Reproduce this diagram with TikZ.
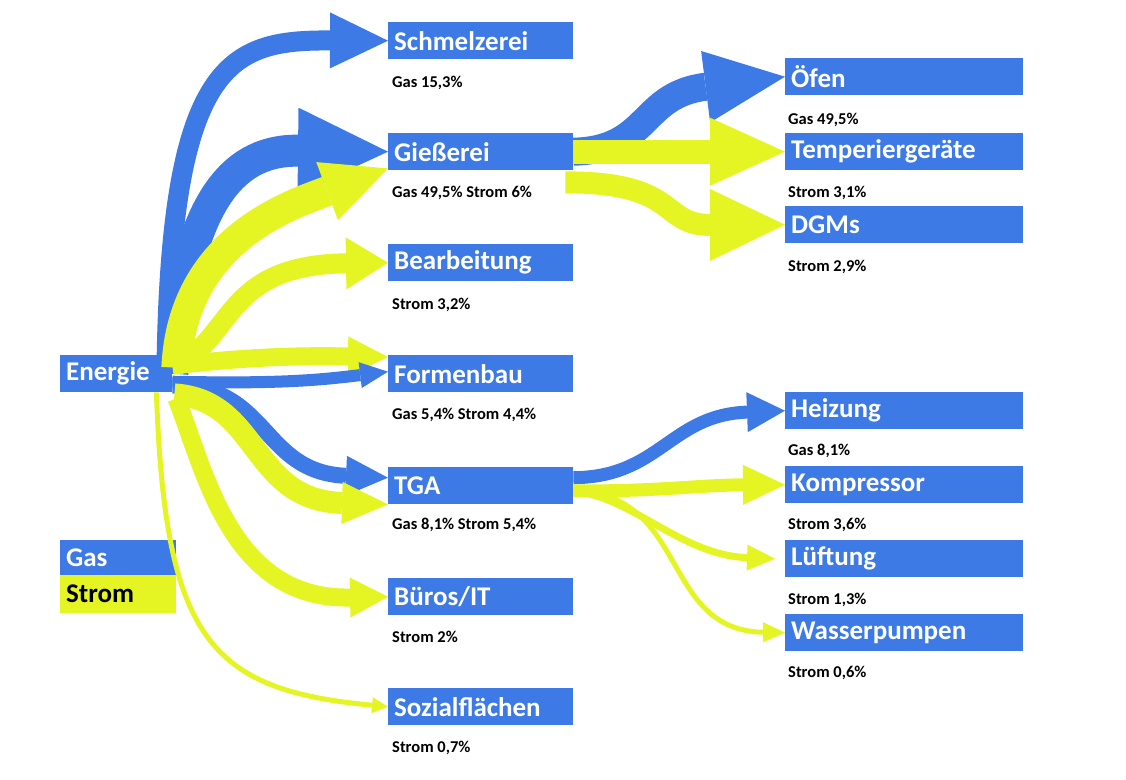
\documentclass[tikz,border=0pt]{standalone}
\usepackage{fontspec}
\setmainfont{Carlito}
\usepackage{tikz}
\usetikzlibrary{arrows.meta, calc}
\definecolor{gasblue}{HTML}{3D7AE6}
\definecolor{stromyellow}{HTML}{E4F523}

\begin{document}
\begin{tikzpicture}[x=1pt, y=-1pt,
  box/.style={fill=gasblue, text=white, font=\bfseries\fontsize{27}{30}\selectfont,
    anchor=north west, minimum height=37pt, inner xsep=6pt, inner ysep=0pt,
    align=left, text width=173pt},
  widebox/.style={box, text width=226pt},
  share/.style={anchor=west, inner sep=0pt, font=\bfseries\fontsize{16.5}{18}\selectfont},
  flow/.style n args={4}{draw=#1, line width=#2,
    -{Triangle[length=#3, width=#4, line width=0pt]}}]
\useasboundingbox (0,0) rectangle (1126,779);

\node[box, text width=100pt] (energie) at (60,355) {Energie};
\node[box, text width=104pt, minimum height=35pt] (gas) at (60,540) {Gas};
\node[box, text width=104pt, minimum height=38pt, fill=stromyellow, text=black] (strom) at (60,575) {Strom};

\node[box] (schmelz) at (388,22) {Schmelzerei};
\node[box] (giess) at (388,133) {Gießerei};
\node[box] (bearb) at (388,244) {Bearbeitung};
\node[box] (formen) at (388,355) {Formenbau};
\node[box] (tga) at (388,467) {TGA};
\node[box] (bueros) at (388,578) {Büros/IT};
\node[box] (sozial) at (388,688) {Sozialflächen};

\node[widebox] (oefen) at (785,58) {Öfen};
\node[widebox] (temper) at (785,133) {Temperiergeräte};
\node[widebox] (dgms) at (785,206) {DGMs};
\node[widebox] (heiz) at (785,392) {Heizung};
\node[widebox] (kompr) at (785,466) {Kompressor};
\node[widebox] (lueft) at (785,540) {Lüftung};
\node[widebox] (wasser) at (785,614) {Wasserpumpen};

\node[share] (schmelzval) at (392,83) {Gas 15,3\%};
\node[share] (giessval) at (392,193) {Gas 49,5\% Strom 6\%};
\node[share] (bearbval) at (392,305) {Strom 3,2\%};
\node[share] (formenval) at (392,415) {Gas 5,4\% Strom 4,4\%};
\node[share] (tgaval) at (392,525) {Gas 8,1\% Strom 5,4\%};
\node[share] (buerosval) at (392,637) {Strom 2\%};
\node[share] (sozialval) at (392,748) {Strom 0,7\%};
\node[share] (oefenval) at (788,120) {Gas 49,5\%};
\node[share] (temperval) at (788,193) {Strom 3,1\%};
\node[share] (dgmsval) at (788,267) {Strom 2,9\%};
\node[share] (heizval) at (788,451) {Gas 8,1\%};
\node[share] (komprval) at (788,525) {Strom 3,6\%};
\node[share] (lueftval) at (788,600) {Strom 1,3\%};
\node[share] (wasserval) at (788,673) {Strom 0,6\%};

\draw[flow={gasblue}{20pt}{58pt}{56pt}] ($(energie.east)+(-6,0)$)
  .. controls (170,60) and (230,40) .. (schmelz.west);
\draw[flow={gasblue}{32pt}{90pt}{86pt}] (energie.east)
  .. controls (185,190) and (240,150) .. (giess.west);
\draw[flow={stromyellow}{30pt}{65pt}{62pt}] ($(energie.east)+(4,-6)$)
  .. controls (182,240) and (290,205) .. ($(giess.south west)+(0,-2)$);
\draw[flow={stromyellow}{20pt}{42pt}{52pt}] ($(energie.east)+(4,-8)$)
  .. controls (235,335) and (225,265) .. (bearb.west);
\draw[flow={stromyellow}{18pt}{40pt}{40pt}] ($(energie.east)+(0,-8)$)
  .. controls (260,355) and (320,356) .. ($(formen.north west)+(0,2)$);
\draw[flow={gasblue}{12pt}{28pt}{26pt}] ($(energie.east)+(0,8)$)
  .. controls (280,384) and (320,380) .. ($(formen.west)+(0,-2)$);
\draw[flow={gasblue}{16pt}{42pt}{40pt}] ($(energie.east)+(0,12)$)
  .. controls (270,385) and (260,472) .. ($(tga.west)+(0,-8)$);
\draw[flow={stromyellow}{22pt}{46pt}{42pt}] ($(energie.south east)+(2,2)$)
  .. controls (260,400) and (250,500) .. (tga.south west);
\draw[flow={stromyellow}{18pt}{38pt}{40pt}] ($(energie.south east)+(4,6)$)
  .. controls (205,470) and (230,600) .. (bueros.west);
\draw[flow={stromyellow}{5pt}{16pt}{16pt}] ($(energie.south east)+(-16,0)$)
  .. controls (165,640) and (210,690) .. (sozial.west);

\draw[flow={gasblue}{28pt}{80pt}{72pt}] (giess.east)
  .. controls (650,150) and (640,95) .. (oefen.west);
\draw[flow={stromyellow}{24pt}{75pt}{68pt}] (giess.east) -- (temper.west);
\draw[flow={stromyellow}{22pt}{75pt}{72pt}] ($(giess.south east)+(-8,12)$)
  .. controls (680,182) and (660,225) .. (dgms.west);

\draw[flow={gasblue}{13pt}{38pt}{40pt}] ($(tga.east)+(0,-8)$)
  .. controls (660,477) and (670,415) .. (heiz.west);
\draw[flow={stromyellow}{13pt}{42pt}{40pt}] ($(tga.east)+(0,5)$)
  .. controls (650,492) and (700,485) .. (kompr.west);
\draw[flow={stromyellow}{7pt}{28pt}{26pt}] ($(tga.east)+(0,6)$)
  .. controls (630,495) and (680,555) .. ($(lueft.west)+(-10,0)$);
\draw[flow={stromyellow}{5pt}{22pt}{20pt}] ($(tga.east)+(0,4)$)
  .. controls (690,495) and (660,630) .. (wasser.west);
\end{tikzpicture}
\end{document}
